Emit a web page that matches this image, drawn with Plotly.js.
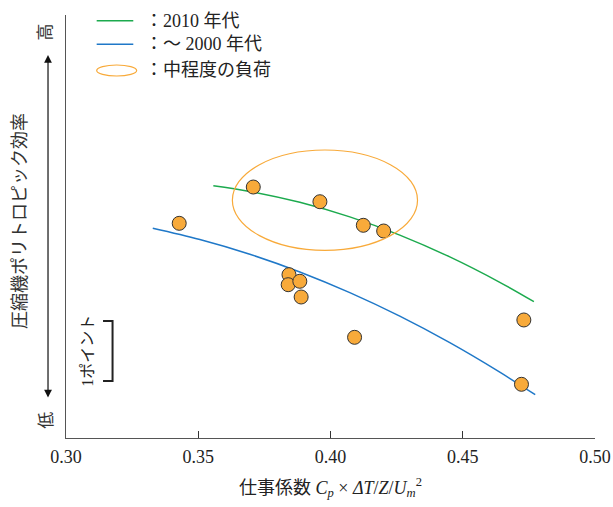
<!DOCTYPE html>
<html>
<head>
<meta charset="utf-8">
<script src="https://cdn.plot.ly/plotly-3.0.1.min.js"></script>
<style>
  html, body { margin: 0; padding: 0; background: #fff; }
  #chart { width: 613px; height: 507px; }
</style>
</head>
<body>
<div id="chart"></div>
<script>
// Measured compressors: work coefficient vs. relative polytropic efficiency (points)
const pointWork = [0.3428, 0.3708, 0.3960, 0.4124, 0.4201, 0.3843, 0.3840, 0.3884, 0.3889, 0.4091, 0.4731, 0.4722];
const pointEff  = [3.578, 4.183, 3.938, 3.545, 3.450, 2.722, 2.555, 2.612, 2.350, 1.678, 1.967, 0.895];

// Trend for 2010s designs
const trend2010Work = [0.3557, 0.3695, 0.3884, 0.4073, 0.4262, 0.4451, 0.4640, 0.4769];
const trend2010Eff  = [4.205, 4.110, 3.928, 3.685, 3.382, 3.018, 2.595, 2.272];

// Trend for designs up to 2000
const trend2000Work = [0.3328, 0.3506, 0.3695, 0.3884, 0.4073, 0.4262, 0.4451, 0.4640, 0.4774];
const trend2000Eff  = [3.495, 3.307, 3.062, 2.767, 2.422, 2.030, 1.588, 1.097, 0.722];

// Moderate-load region (ellipse bounds)
const loadRegionWork = [0.3629, 0.4329];
const loadRegionEff  = [3.128, 4.800];

// Scale bar: one efficiency point
const scaleBarEff = [0.95, 1.95];

const xTicks = [0.30, 0.35, 0.40, 0.45, 0.50];
const xTickLabels = ['0.30', '0.35', '0.40', '0.45', '0.50'];

const legendLabels = ['：2010 年代', '：～ 2000 年代', '：中程度の負荷'];

const GREEN = '#1caa4e';
const BLUE = '#1f78c8';
const ORANGE = '#f8aa3a';
const FONT = '"Liberation Serif", "Noto Sans CJK JP", serif';

const traces = [
  {
    x: trend2010Work, y: trend2010Eff, type: 'scatter', mode: 'lines',
    line: { color: GREEN, width: 1.5, shape: 'spline', smoothing: 1 },
    hoverinfo: 'skip', showlegend: false
  },
  {
    x: trend2000Work, y: trend2000Eff, type: 'scatter', mode: 'lines',
    line: { color: BLUE, width: 1.5, shape: 'spline', smoothing: 1 },
    hoverinfo: 'skip', showlegend: false
  },
  {
    x: pointWork, y: pointEff, type: 'scatter', mode: 'markers',
    marker: { size: 14, color: ORANGE, line: { color: '#333', width: 1 } },
    showlegend: false
  }
];

const shapes = [
  // moderate-load ellipse
  {
    type: 'circle', xref: 'x', yref: 'y',
    x0: loadRegionWork[0], x1: loadRegionWork[1],
    y0: loadRegionEff[0], y1: loadRegionEff[1],
    line: { color: ORANGE, width: 1.2 }
  },
  // scale bracket for one point
  {
    type: 'path', xref: 'x', yref: 'y',
    path: `M 0.3140 ${scaleBarEff[1]} L 0.3176 ${scaleBarEff[1]} L 0.3176 ${scaleBarEff[0]} L 0.3140 ${scaleBarEff[0]}`,
    line: { color: '#222', width: 2 }
  },
  // legend symbols
  { type: 'line', xref: 'paper', yref: 'paper', x0: 0.058, x1: 0.1272, y0: 0.9865, y1: 0.9865,
    line: { color: GREEN, width: 1.5 } },
  { type: 'line', xref: 'paper', yref: 'paper', x0: 0.058, x1: 0.1272, y0: 0.9307, y1: 0.9307,
    line: { color: BLUE, width: 1.5 } },
  { type: 'circle', xref: 'paper', yref: 'paper', x0: 0.058, x1: 0.1336, y0: 0.8558, y1: 0.8818,
    line: { color: ORANGE, width: 1.2 } }
];

const annotations = [
  // legend labels
  { text: legendLabels[0], xref: 'paper', yref: 'paper', x: 0.1456, y: 0.9865, xanchor: 'left', yanchor: 'middle',
    showarrow: false, font: { family: FONT, size: 18, color: '#222' } },
  { text: legendLabels[1], xref: 'paper', yref: 'paper', x: 0.1456, y: 0.9307, xanchor: 'left', yanchor: 'middle',
    showarrow: false, font: { family: FONT, size: 18, color: '#222' } },
  { text: legendLabels[2], xref: 'paper', yref: 'paper', x: 0.1456, y: 0.8688, xanchor: 'left', yanchor: 'middle',
    showarrow: false, font: { family: FONT, size: 18, color: '#222' } },
  // y-axis title
  { text: '圧縮機ポリトロピック効率', xref: 'paper', yref: 'paper', x: -0.087, y: 0.513,
    xanchor: 'center', yanchor: 'middle', textangle: -90, showarrow: false,
    font: { family: FONT, size: 18, color: '#333' } },
  // high / low markers
  { text: '高', xref: 'paper', yref: 'paper', x: -0.038, y: 0.961, xanchor: 'center', yanchor: 'middle',
    textangle: -90, showarrow: false, font: { family: FONT, size: 17, color: '#333' } },
  { text: '低', xref: 'paper', yref: 'paper', x: -0.036, y: 0.043, xanchor: 'center', yanchor: 'middle',
    textangle: -90, showarrow: false, font: { family: FONT, size: 17, color: '#333' } },
  // double-headed arrow
  { text: '', xref: 'paper', yref: 'paper', x: -0.034, y: 0.9054, ax: 0, ay: 344,
    showarrow: true, arrowside: 'end+start', arrowhead: 2, startarrowhead: 2,
    arrowsize: 1.3, startarrowsize: 1.3, arrowwidth: 1.2, arrowcolor: '#111', standoff: 0, startstandoff: 0 },
  // scale bar label
  { text: '1ポイント', xref: 'x', yref: 'y', x: 0.3078, y: (scaleBarEff[0] + scaleBarEff[1]) / 2,
    xanchor: 'center', yanchor: 'middle', textangle: -90, showarrow: false,
    font: { family: FONT, size: 16, color: '#222' } },
  // x-axis title
  { text: '仕事係数 <i>C<sub>p</sub></i> × <i>ΔT</i>/<i>Z</i>/<i>U<sub>m</sub></i><sup>2</sup>',
    xref: 'paper', yref: 'paper', x: 0.5, y: -0.118, xanchor: 'center', yanchor: 'middle',
    showarrow: false, font: { family: FONT, size: 18, color: '#222' } }
];

const layout = {
  width: 613, height: 507,
  margin: { l: 66, r: 18, t: 15, b: 69 },
  paper_bgcolor: '#fff', plot_bgcolor: '#fff',
  showlegend: false,
  font: { family: FONT, size: 18, color: '#222' },
  xaxis: {
    range: [0.30, 0.50], tickvals: xTicks, ticktext: xTickLabels,
    ticks: 'inside', ticklen: 7, tickwidth: 1, tickcolor: '#333',
    showline: true, linecolor: '#555', linewidth: 1.2,
    showgrid: false, zeroline: false, ticklabelstandoff: 2,
    tickfont: { family: FONT, size: 18, color: '#222' }
  },
  yaxis: {
    range: [0, 7.05], showticklabels: false, ticks: '',
    showline: true, linecolor: '#555', linewidth: 1.2,
    showgrid: false, zeroline: false
  },
  shapes: shapes,
  annotations: annotations
};

Plotly.newPlot('chart', traces, layout, { displayModeBar: false, staticPlot: true });
</script>
</body>
</html>
